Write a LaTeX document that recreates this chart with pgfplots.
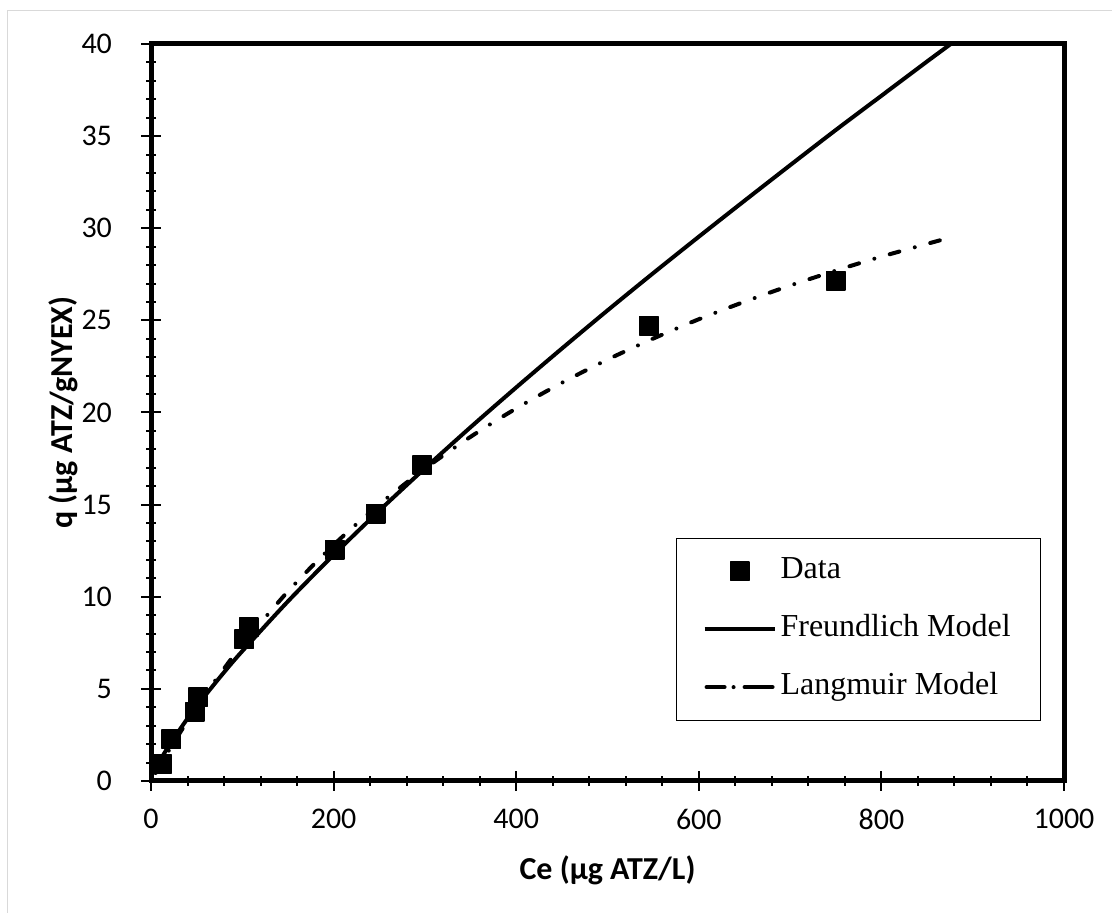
\documentclass[border=0pt]{standalone}
\usepackage{pgfplots}
\pgfplotsset{compat=1.18}
\usepackage{fontspec}
\setmainfont{Liberation Serif}
\newfontfamily\carlito{Carlito}

\begin{document}
\begin{tikzpicture}
\begin{axis}[
  at={(0,0)}, anchor=south west,
  scale only axis, width=456.5pt, height=368.5pt,
  xmin=0, xmax=1000, ymin=0, ymax=40,
  xtick={0,200,...,1000}, ytick={0,5,...,40},
  minor x tick num=4, minor y tick num=4,
  xtick pos=bottom, ytick pos=left,
  axis line style={line width=2.5pt},
  tick align=center,
  major tick length=10pt, minor tick length=5pt,
  tick style={line width=1pt, black},
  xticklabel style={font=\carlito\fontsize{15}{18}\selectfont, yshift=-5.5pt},
  yticklabel style={font=\carlito\fontsize{15}{18}\selectfont, anchor=east, xshift=-11pt},
  /pgf/number format/assume math mode=true,
  /pgf/number format/1000 sep={},
  scaled ticks=false,
  xlabel={\carlito\bfseries\fontsize{16}{19}\selectfont Ce (µg ATZ/L)},
  ylabel={\carlito\bfseries\fontsize{16}{19}\selectfont q (µg ATZ/gNYEX)},
  xlabel style={at={(axis description cs:0.5,-0.1208)}, anchor=center},
  ylabel style={at={(axis description cs:-0.0964,0.5)}, anchor=center},
  clip=true,
  legend style={at={(0.575,0.0818)}, anchor=south west, draw=black,
    line width=0.6pt, fill=white,
    font=\fontsize{16}{19}\selectfont,
    inner xsep=13pt, inner ysep=7pt, row sep=10pt,
    nodes={inner sep=2pt, text height=11pt, text depth=4pt}},
  legend cell align=left,
  legend image code/.code={\draw[mark repeat=2,mark phase=2,#1] plot coordinates {(0pt,0pt) (17.5pt,0pt) (35pt,0pt)};},
]
% measured isotherm points
\addplot[only marks, mark=square*, mark size=4.6pt,
  mark options={line width=0.8pt, line join=round, fill=black, draw=black}]
  coordinates {
  (12.5,0.92) (22.4,2.27) (48,3.75) (52,4.55) (102,7.7) (107,8.35)
  (201,12.55) (246,14.5) (297,17.15) (545,24.7) (750,27.15)
  };
\addlegendentry{Data}
% Freundlich fit
\addplot[black, line width=2pt, line join=round, smooth]
  coordinates {
  (5,0.64) (10,1.12) (20,1.94) (40,3.39) (60,4.68) (80,5.90) (100,7.05)
  (150,9.75) (200,12.27) (250,14.67) (300,16.97) (350,19.20) (400,21.36)
  (450,23.47) (500,25.54) (550,27.56) (600,29.54) (650,31.49) (700,33.42)
  (750,35.33) (800,37.19) (850,39.05) (876,40.0)
  };
\addlegendentry{Freundlich Model}
% Langmuir fit
\addplot[black, line width=2pt, line cap=round, smooth,
  dash pattern=on 5pt off 8pt on 0pt off 8pt,
  legend image code/.code={\draw[black, line width=2pt, line cap=round,
    dash pattern=on 9pt off 4.5pt on 0pt off 5.5pt on 20pt] (1pt,0pt) -- (34pt,0pt);}]
  coordinates {
  (5,0.43) (10,0.86) (20,1.69) (40,3.26) (60,4.73) (80,6.10) (100,7.39)
  (150,10.29) (200,12.81) (250,15.01) (300,16.95) (350,18.68) (400,20.22)
  (450,21.61) (500,22.87) (550,24.01) (600,25.06) (650,26.01) (700,26.89)
  (750,27.70) (800,28.46) (866,29.37)
  };
\addlegendentry{Langmuir Model}
\end{axis}
\draw[black!15, line width=0.5pt] (-71.5pt,-70pt) -- (-71.5pt,385pt) -- (485pt,385pt);
\pgfresetboundingbox
\path (-75.5pt,-66pt) rectangle (480.5pt,390.5pt);
\end{tikzpicture}
\end{document}
